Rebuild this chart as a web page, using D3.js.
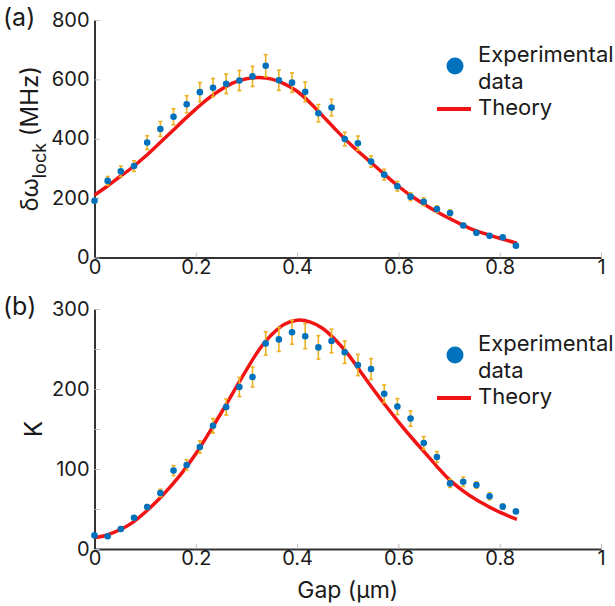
<!DOCTYPE html>
<html>
<head>
<meta charset="utf-8">
<script src="https://cdn.jsdelivr.net/npm/d3@7"></script>
<style>
  body { margin: 0; background: #fff; }
  svg { display: block; font-family: Inter, "Noto Sans", sans-serif; }
</style>
</head>
<body>
<div id="chart"></div>
<script>
'use strict';

// gap positions of the measured points (um)
const gap = [
    0, 0.026, 0.052, 0.078, 0.104, 0.13, 0.156, 0.182, 0.208, 0.234, 0.26,
    0.286, 0.312, 0.338, 0.364, 0.39, 0.416, 0.442, 0.468, 0.494, 0.52,
    0.546, 0.572, 0.598, 0.624, 0.65, 0.676, 0.702, 0.728, 0.754, 0.78,
    0.806, 0.832
]

// (a) locking range, MHz
const lockData = [
    191, 258, 290, 308, 387, 433, 474, 516, 557, 572, 585,
    596, 610, 646, 597, 589, 558, 486, 505, 399, 385,
    323, 279, 240, 205, 188, 163, 150, 108, 83, 73,
    68, 40
]
const lockErr = [
    8, 15, 18, 18, 23, 25, 27, 29, 32, 31, 33,
    34, 34, 37, 34, 33, 33, 29, 28, 23, 24,
    19, 18, 16, 13, 13, 11, 10, 7, 5, 5,
    4, 3
]

// (b) coupling K
const kappaData = [
    17, 16, 25, 39, 52.5, 70, 98, 105, 127.5, 154, 177.5,
    202.5, 215, 257, 262, 271, 266, 252, 260, 246, 230,
    225, 194, 178, 163, 132.5, 115, 82, 84, 80, 66,
    53, 47
]
const kappaErr = [
    2, 1.5, 2, 2.5, 3, 4.6, 6.3, 6.5, 7.7, 9, 10,
    12, 12.5, 14.6, 15, 15, 15.6, 14.6, 14.8, 14, 13.3,
    13, 11, 10, 9.6, 8, 6.7, 5, 5.8, 4, 4.4,
    3, 2
]

// theory curves
const theoryGap = [
    0, 0.025, 0.05, 0.075, 0.1, 0.125, 0.15, 0.175, 0.2, 0.225, 0.25, 0.275,
    0.3, 0.325, 0.35, 0.375, 0.4, 0.425, 0.45, 0.475, 0.5, 0.525, 0.55,
    0.575, 0.6, 0.625, 0.65, 0.675, 0.7, 0.725, 0.75, 0.775, 0.8, 0.834
]
const lockTheory = [
    210, 240, 272, 304, 340, 380, 420, 461, 500, 536, 566, 589,
    602, 606, 601, 585, 560, 522, 478, 433, 390, 351, 314,
    276, 240, 208, 180, 155, 132, 111, 92, 78, 65, 48
]
const kappaTheory = [
    14, 17.5, 24, 33, 46, 61, 78, 97, 119, 144, 170, 197,
    224, 249, 268, 281, 286, 284, 276, 262, 244, 222, 200,
    179, 159, 140, 122, 104, 87, 74, 63, 54, 46, 37
]

const xTicks = [0, 0.2, 0.4, 0.6, 0.8, 1]
const lockTicks = [0, 200, 400, 600, 800]
const kappaTicks = [0, 50, 100, 150, 200, 250, 300]
const kappaTickLabels = [0, 100, 200, 300]

const legendLabels = ['Experimental', 'data', 'Theory']

const width = 615;
const height = 606;

const leftGutter = 94.5;
const rightEdge = 601;

const dotColor = '#0072BD';
const errColor = '#EDB120';
const lineColor = '#f01414';
const axisColor = '#333';
const tickColor = '#bbb';
const textColor = '#1a1a1a';

const svg = d3.select('#chart')
    .append('svg')
        .attr('width', width)
        .attr('height', height)

const x = d3.scaleLinear()
    .domain([0, 1])
    .range([leftGutter, rightEdge]);

function buildPanel(opts) {

    const y = d3.scaleLinear()
        .domain(opts.domain)
        .range([opts.bottom, opts.top]);

    const panel = svg.append('g');

    // x axis, ticks pointing inward
    const xAxis = panel.append('g')
        .attr('transform', `translate(0,${opts.bottom})`)
        .call(d3.axisBottom(x)
            .tickValues(xTicks)
            .tickSizeInner(-5)
            .tickSizeOuter(0)
            .tickPadding(4)
            .tickFormat(d3.format('~g')));

    // y axis
    const yAxis = panel.append('g')
        .attr('transform', `translate(${leftGutter},0)`)
        .call(d3.axisLeft(y)
            .tickValues(opts.ticks)
            .tickSizeInner(-5)
            .tickSizeOuter(0)
            .tickPadding(5)
            .tickFormat(d => opts.labels.includes(d) ? d : ''));

    [xAxis, yAxis].forEach(ax => {
        ax.select('.domain')
            .attr('stroke', axisColor)
            .attr('stroke-width', 2);
        ax.selectAll('.tick line')
            .attr('stroke', tickColor)
            .attr('stroke-width', 1);
        ax.selectAll('.tick text')
            .attr('fill', textColor)
            .attr('font-size', 20)
            .attr('font-family', 'Inter, sans-serif');
    });
    xAxis.selectAll('.tick text').attr('dy', '0.6em');
    yAxis.selectAll('.tick text').attr('dy', '0.3em');

    // theory curve
    panel.append('path')
        .datum(d3.zip(theoryGap, opts.theory))
        .attr('fill', 'none')
        .attr('stroke', lineColor)
        .attr('stroke-width', 3.5)
        .attr('d', d3.line()
            .curve(d3.curveCatmullRom)
            .x(d => x(d[0]))
            .y(d => y(d[1])));

    const points = gap.map((g, i) => ({ g, v: opts.data[i], e: opts.err[i] }));

    // error bars
    const bars = panel.append('g')
        .attr('stroke', errColor)
        .attr('stroke-width', 1.6)
        .selectAll('g')
        .data(points)
        .enter()
            .append('g');

    bars.append('line')
        .attr('x1', d => x(d.g))
        .attr('x2', d => x(d.g))
        .attr('y1', d => y(d.v - d.e))
        .attr('y2', d => y(d.v + d.e));

    bars.append('line')
        .attr('x1', d => x(d.g) - 2)
        .attr('x2', d => x(d.g) + 2)
        .attr('y1', d => y(d.v - d.e))
        .attr('y2', d => y(d.v - d.e));

    bars.append('line')
        .attr('x1', d => x(d.g) - 2)
        .attr('x2', d => x(d.g) + 2)
        .attr('y1', d => y(d.v + d.e))
        .attr('y2', d => y(d.v + d.e));

    panel.append('g')
        .selectAll('circle')
        .data(points)
        .enter()
            .append('circle')
                .attr('cx', d => x(d.g))
                .attr('cy', d => y(d.v))
                .attr('r', 3.3)
                .attr('fill', dotColor);

    // panel tag
    panel.append('text')
        .attr('x', 3)
        .attr('y', opts.top + 6)
        .attr('font-size', 25)
        .attr('fill', textColor)
        .text(opts.tag);

    // y label
    const yl = panel.append('text')
        .attr('transform', `translate(${opts.labelX},${(opts.top + opts.bottom) / 2}) rotate(-90)`)
        .attr('text-anchor', 'middle')
        .attr('font-size', 24)
        .attr('fill', textColor);
    opts.yLabel(yl);

    // legend
    const lg = panel.append('g')
        .attr('transform', `translate(0,${opts.top})`);

    lg.append('circle')
        .attr('cx', 455)
        .attr('cy', 46)
        .attr('r', 8.5)
        .attr('fill', dotColor);

    lg.append('line')
        .attr('x1', 437)
        .attr('x2', 471)
        .attr('y1', 89)
        .attr('y2', 89)
        .attr('stroke', lineColor)
        .attr('stroke-width', 4);

    lg.selectAll('text')
        .data(legendLabels)
        .enter()
            .append('text')
            .attr('x', 478)
            .attr('y', (d, i) => 42 + 26.5 * i)
            .attr('font-size', 22)
            .attr('fill', textColor)
            .text(d => d);
}

buildPanel({
    tag: '(a)',
    top: 20,
    bottom: 257.5,
    domain: [0, 800],
    ticks: lockTicks,
    labels: lockTicks,
    data: lockData,
    err: lockErr,
    theory: lockTheory,
    labelX: 38,
    yLabel: t => {
        t.append('tspan').text('δω');
        t.append('tspan').attr('font-size', 18).attr('dy', 8).text('lock');
        t.append('tspan').attr('dy', -8).text(' (MHz)');
    }
});

buildPanel({
    tag: '(b)',
    top: 309,
    bottom: 549,
    domain: [0, 300],
    ticks: kappaTicks,
    labels: kappaTickLabels,
    data: kappaData,
    err: kappaErr,
    theory: kappaTheory,
    labelX: 42,
    yLabel: t => t.text('K')
});

svg.append('text')
    .attr('x', (leftGutter + rightEdge) / 2)
    .attr('y', 598)
    .attr('text-anchor', 'middle')
    .attr('font-size', 23)
    .attr('fill', textColor)
    .text('Gap (μm)');
</script>
</body>
</html>
